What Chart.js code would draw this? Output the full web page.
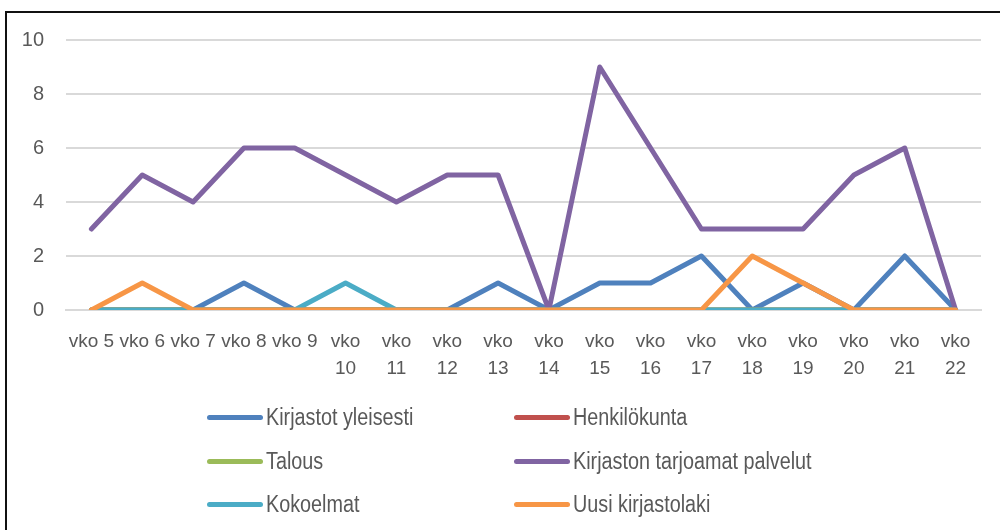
<!DOCTYPE html>
<html>
<head>
<meta charset="utf-8">
<script src="https://cdn.jsdelivr.net/npm/chart.js@4.4.1/dist/chart.umd.min.js"></script>
<style>
  html, body { margin: 0; padding: 0; background: #fff; }
  body { width: 1000px; height: 530px; position: relative; overflow: hidden; }
  #frame { position: absolute; left: 5px; top: 11px; width: 1000px; height: 600px; border: 2px solid #111; box-sizing: border-box; }
  #wrap { position: absolute; left: 0; top: 0; width: 1000px; height: 530px; }
  .item { position: absolute; height: 30px; display: flex; align-items: center;
          font-family: "Liberation Sans", Arial, sans-serif;
          font-size: 23px; color: #595959; white-space: nowrap; }
  .item span.ln { display: inline-block; width: 56px; height: 5px; border-radius: 3px; margin-right: 3px; }
  .item span.tx { display: inline-block; transform: scaleX(0.86); transform-origin: left center; }
</style>
</head>
<body>
<div id="frame"></div>
<div id="wrap"><canvas id="chart" width="1000" height="530"></canvas></div>
<div id="legend"></div>
<script>
const weeks = ['vko 5', 'vko 6', 'vko 7', 'vko 8', 'vko 9', 'vko 10', 'vko 11', 'vko 12', 'vko 13',
  'vko 14', 'vko 15', 'vko 16', 'vko 17', 'vko 18', 'vko 19', 'vko 20', 'vko 21', 'vko 22'];

const seriesNames = ['Kirjastot yleisesti', 'Henkilökunta', 'Talous',
  'Kirjaston tarjoamat palvelut', 'Kokoelmat', 'Uusi kirjastolaki'];
const seriesColors = ['#4F81BD', '#C0504D', '#9BBB59', '#8064A2', '#4BACC6', '#F79646'];

const kirjastotYleisesti = [0, 0, 0, 1, 0, 0, 0, 0, 1, 0, 1, 1, 2, 0, 1, 0, 2, 0];
const henkilokunta       = [0, 0, 0, 0, 0, 0, 0, 0, 0, 0, 0, 0, 0, 0, 0, 0, 0, 0];
const talous             = [0, 0, 0, 0, 0, 0, 0, 0, 0, 0, 0, 0, 0, 0, 0, 0, 0, 0];
const palvelut           = [3, 5, 4, 6, 6, 5, 4, 5, 5, 0, 9, 6, 3, 3, 3, 5, 6, 0];
const kokoelmat          = [0, 0, 0, 0, 0, 1, 0, 0, 0, 0, 0, 0, 0, 0, 0, 0, 0, 0];
const uusiLaki           = [0, 1, 0, 0, 0, 0, 0, 0, 0, 0, 0, 0, 0, 2, 1, 0, 0, 0];

const seriesValues = [kirjastotYleisesti, henkilokunta, talous, palvelut, kokoelmat, uusiLaki];
const yTicks = [0, 2, 4, 6, 8, 10];

const font = "'Liberation Sans', Arial, sans-serif";
const textColor = '#595959';

const datasets = seriesNames.map((name, i) => ({
  label: name,
  data: seriesValues[i],
  borderColor: seriesColors[i],
  backgroundColor: seriesColors[i],
  borderWidth: 5,
  pointRadius: 0,
  tension: 0,
  borderJoinStyle: 'round',
  borderCapStyle: 'round',
  order: seriesNames.length - i
}));

new Chart(document.getElementById('chart'), {
  type: 'line',
  data: { labels: weeks, datasets: datasets },
  options: {
    responsive: false,
    animation: false,
    layout: { padding: { left: 0, right: 19, top: 40, bottom: 0 } },
    plugins: { legend: { display: false }, tooltip: { enabled: false } },
    scales: {
      x: {
        offset: true,
        grid: { display: false, drawTicks: false },
        border: { display: true, color: '#d9d9d9', width: 2 },
        ticks: {
          autoSkip: false, maxRotation: 0, minRotation: 0, padding: 19,
          color: textColor,
          font: { family: font, size: 19, lineHeight: 1.38 },
          callback: function (v) {
            const lab = this.getLabelForValue(v);
            const n = parseInt(lab.split(' ')[1], 10);
            return n >= 10 ? lab.split(' ') : lab;
          }
        },
        afterFit: s => { s.height = 220; }
      },
      y: {
        min: 0, max: 10,
        afterBuildTicks: s => { s.ticks = yTicks.map(v => ({ value: v })); },
        grid: { color: '#d9d9d9', lineWidth: 2, drawTicks: false },
        border: { display: false },
        ticks: { padding: 22, color: textColor, font: { family: font, size: 20 } },
        afterFit: s => { s.width = 66; }
      }
    }
  }
});

// legend laid out in two columns like the original
const legend = document.getElementById('legend');
const colX = [207, 514];
const rowY = [417, 461, 504];
seriesNames.forEach((name, i) => {
  const el = document.createElement('div');
  el.className = 'item';
  el.style.left = colX[i % 2] + 'px';
  el.style.top = (rowY[Math.floor(i / 2)] - 15) + 'px';
  el.innerHTML = '<span class="ln" style="background:' + seriesColors[i] + '"></span><span class="tx">' + name + '</span>';
  legend.appendChild(el);
});
</script>
</body>
</html>
